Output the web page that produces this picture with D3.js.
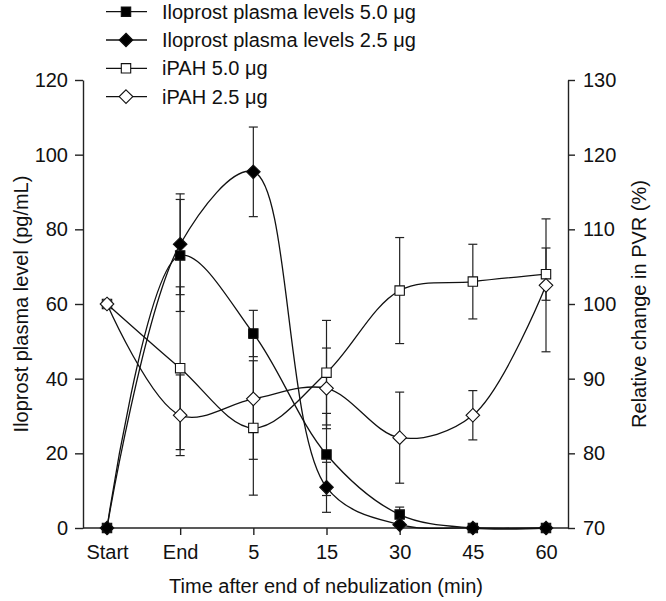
<!DOCTYPE html>
<html>
<head>
<meta charset="utf-8">
<script src="https://cdn.jsdelivr.net/npm/d3@7"></script>
<style>
  body { margin: 0; background: #fff; }
  text { font-family: "Liberation Sans", Arial, sans-serif; fill: #111; }
</style>
</head>
<body>
<script>
const w = 666;
const h = 601;
const fs = 20;

// Data

const cats = ["Start", "End", "5", "15", "30", "45", "60"];
const plasma50 = [0, 73, 52.1, 19.7, 3.6, 0, 0];
const plasma50Sd = [0, 15, 6.2, 11, 2, 0, 0];
const plasma25 = [0, 76, 95.4, 10.9, 0.9, 0, 0];
const plasma25Sd = [0, 13.5, 12, 6.7, 0.5, 0, 0];
const ipah50 = [100, 91.4, 83.4, 90.8, 101.8, 103.0, 104.0];
const ipah50Sd = [0, 10.9, 9.0, 7.0, 7.1, 5.0, 3.5];
const ipah25 = [100, 85.1, 87.3, 88.7, 82.1, 85.1, 102.5];
const ipah25Sd = [0, 5.4, 8.1, 5.4, 6.1, 3.3, 8.9];
const leftTicks = [0, 20, 40, 60, 80, 100, 120];
const rightTicks = [70, 80, 90, 100, 110, 120, 130];

// SVG

const svg = d3.select("body").append("svg").attr("width", w).attr("height", h);

// Scales

const x = d3.scalePoint().domain(cats).range([107, 546]);
const yL = d3.scaleLinear().domain([0, 120]).range([528, 80]);
const yR = d3.scaleLinear().domain([70, 130]).range([528, 80]);

// Axes

const axisStyle = (g) => {
  g.selectAll("path, line").attr("stroke", "#222").attr("stroke-width", 1.4);
  g.selectAll("text").attr("font-size", fs).attr("fill", "#111")
    .style("font-family", '"Liberation Sans", Arial, sans-serif');
};

svg.append("g")
  .attr("transform", "translate(83,0)")
  .call(d3.axisLeft(yL).tickValues(leftTicks).tickSize(8).tickPadding(7).tickSizeOuter(0))
  .call(axisStyle);

svg.append("g")
  .attr("transform", "translate(568,0)")
  .call(d3.axisRight(yR).tickValues(rightTicks).tickSize(7).tickPadding(8).tickSizeOuter(0))
  .call(axisStyle);

const xAxis = svg.append("g")
  .attr("transform", "translate(0,528)")
  .call(d3.axisBottom(x).tickSize(7).tickPadding(10).tickSizeOuter(0))
  .call(axisStyle);
xAxis.select(".domain").attr("d", "M83,0H568");

// Axis titles

svg.append("text")
  .attr("transform", "translate(28,304) rotate(-90)")
  .attr("text-anchor", "middle")
  .attr("font-size", fs)
  .text("Iloprost plasma level (pg/mL)");

svg.append("text")
  .attr("transform", "translate(646,304) rotate(-90)")
  .attr("text-anchor", "middle")
  .attr("font-size", fs)
  .text("Relative change in PVR (%)");

svg.append("text")
  .attr("x", 326)
  .attr("y", 593)
  .attr("text-anchor", "middle")
  .attr("font-size", fs)
  .text("Time after end of nebulization (min)");

// Series

const series = [
  { name: "Iloprost plasma levels 5.0 μg", vals: plasma50, sd: plasma50Sd, y: yL, shape: "square", fill: "#000" },
  { name: "Iloprost plasma levels 2.5 μg", vals: plasma25, sd: plasma25Sd, y: yL, shape: "diamond", fill: "#000" },
  { name: "iPAH 5.0 μg", vals: ipah50, sd: ipah50Sd, y: yR, shape: "square", fill: "#fff" },
  { name: "iPAH 2.5 μg", vals: ipah25, sd: ipah25Sd, y: yR, shape: "diamond", fill: "#fff" },
];

const line = (s) => d3.line()
  .x((d, i) => x(cats[i]))
  .y((d) => s.y(d))
  .curve(d3.curveCatmullRom.alpha(0.5));

const markerPath = (shape) => shape === "square"
  ? "M-4.7,-4.7H4.7V4.7H-4.7Z"
  : "M0,-6.8L6.8,0L0,6.8L-6.8,0Z";

// Error bars

series.forEach((s) => {
  const g = svg.append("g").attr("stroke", "#222").attr("stroke-width", 1.2);
  s.vals.forEach((v, i) => {
    if (!s.sd[i]) return;
    const cx = x(cats[i]);
    const y1 = s.y(v + s.sd[i]);
    const y2 = s.y(v - s.sd[i]);
    g.append("line").attr("x1", cx).attr("x2", cx).attr("y1", y1).attr("y2", y2);
    g.append("line").attr("x1", cx - 4.5).attr("x2", cx + 4.5).attr("y1", y1).attr("y2", y1);
    g.append("line").attr("x1", cx - 4.5).attr("x2", cx + 4.5).attr("y1", y2).attr("y2", y2);
  });
});

// Lines

series.forEach((s) => {
  svg.append("path")
    .attr("d", line(s)(s.vals))
    .attr("fill", "none")
    .attr("stroke", "#111")
    .attr("stroke-width", 1.3);
});

// Markers

series.forEach((s) => {
  svg.append("g")
    .selectAll("path")
    .data(s.vals)
    .join("path")
    .attr("transform", (d, i) => `translate(${x(cats[i])},${s.y(d)})`)
    .attr("d", markerPath(s.shape))
    .attr("fill", s.fill)
    .attr("stroke", "#111")
    .attr("stroke-width", 1.1);
});

// Legend

const legend = svg.append("g")
  .selectAll("g")
  .data(series)
  .join("g")
  .attr("transform", (d, i) => `translate(0,${11.7 + i * 28.3})`);

legend.append("line")
  .attr("x1", 106).attr("x2", 147)
  .attr("stroke", "#111").attr("stroke-width", 1.3);

legend.append("path")
  .attr("transform", "translate(126,0)")
  .attr("d", (d) => markerPath(d.shape))
  .attr("fill", (d) => d.fill)
  .attr("stroke", "#111")
  .attr("stroke-width", 1.1);

legend.append("text")
  .attr("x", 162)
  .attr("dy", "0.35em")
  .attr("font-size", fs)
  .text((d) => d.name);
</script>
</body>
</html>
